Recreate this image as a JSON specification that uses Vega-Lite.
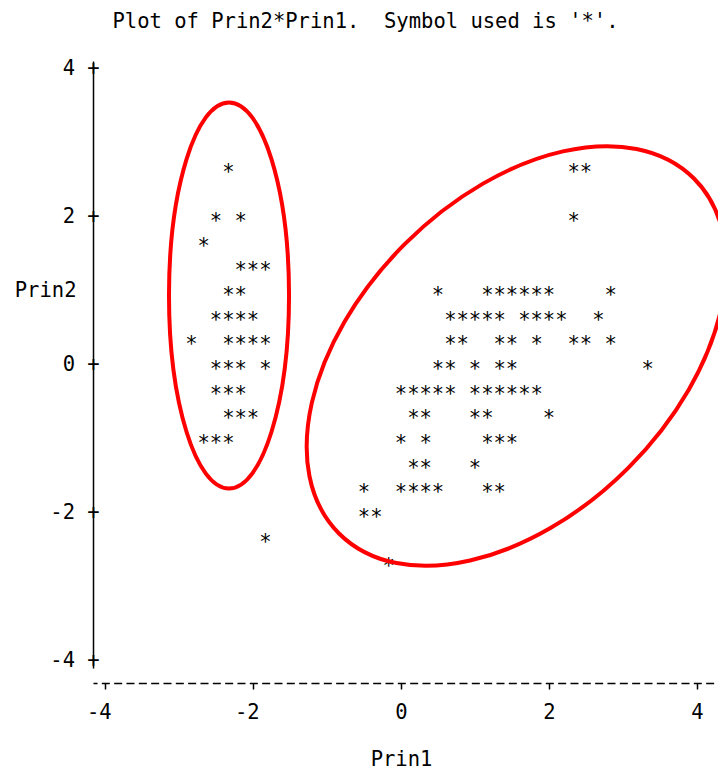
{
  "$schema": "https://vega.github.io/schema/vega-lite/v6.json",
  "width": 625,
  "height": 607,
  "autosize": {"type": "none"},
  "padding": {"left": 93, "top": 61, "right": 0, "bottom": 104},
  "background": "white",
  "title": {
    "text": "Plot of Prin2*Prin1.\u00a0 Symbol used is '*'.",
    "frame": "group",
    "anchor": "middle",
    "dx": -40,
    "offset": 10,
    "baseline": "alphabetic",
    "font": "DejaVu Sans Mono",
    "fontSize": 20.5,
    "fontWeight": "normal",
    "color": "black"
  },
  "config": {"view": {"stroke": null}, "font": "DejaVu Sans Mono"},
  "datasets": {
    "stars": [
      {"Prin1": -2.333, "Prin2": 2.667},
      {"Prin1": -2.5, "Prin2": 2.0},
      {"Prin1": -2.167, "Prin2": 2.0},
      {"Prin1": -2.667, "Prin2": 1.667},
      {"Prin1": -2.167, "Prin2": 1.333},
      {"Prin1": -2.0, "Prin2": 1.333},
      {"Prin1": -1.833, "Prin2": 1.333},
      {"Prin1": -2.333, "Prin2": 1.0},
      {"Prin1": -2.167, "Prin2": 1.0},
      {"Prin1": -2.5, "Prin2": 0.667},
      {"Prin1": -2.333, "Prin2": 0.667},
      {"Prin1": -2.167, "Prin2": 0.667},
      {"Prin1": -2.0, "Prin2": 0.667},
      {"Prin1": -2.833, "Prin2": 0.333},
      {"Prin1": -2.333, "Prin2": 0.333},
      {"Prin1": -2.167, "Prin2": 0.333},
      {"Prin1": -2.0, "Prin2": 0.333},
      {"Prin1": -1.833, "Prin2": 0.333},
      {"Prin1": -2.5, "Prin2": 0.0},
      {"Prin1": -2.333, "Prin2": 0.0},
      {"Prin1": -2.167, "Prin2": 0.0},
      {"Prin1": -1.833, "Prin2": 0.0},
      {"Prin1": -2.5, "Prin2": -0.333},
      {"Prin1": -2.333, "Prin2": -0.333},
      {"Prin1": -2.167, "Prin2": -0.333},
      {"Prin1": -2.333, "Prin2": -0.667},
      {"Prin1": -2.167, "Prin2": -0.667},
      {"Prin1": -2.0, "Prin2": -0.667},
      {"Prin1": -2.667, "Prin2": -1.0},
      {"Prin1": -2.5, "Prin2": -1.0},
      {"Prin1": -2.333, "Prin2": -1.0},
      {"Prin1": -1.833, "Prin2": -2.333},
      {"Prin1": 2.333, "Prin2": 2.667},
      {"Prin1": 2.5, "Prin2": 2.667},
      {"Prin1": 2.333, "Prin2": 2.0},
      {"Prin1": 0.5, "Prin2": 1.0},
      {"Prin1": 1.167, "Prin2": 1.0},
      {"Prin1": 1.333, "Prin2": 1.0},
      {"Prin1": 1.5, "Prin2": 1.0},
      {"Prin1": 1.667, "Prin2": 1.0},
      {"Prin1": 1.833, "Prin2": 1.0},
      {"Prin1": 2.0, "Prin2": 1.0},
      {"Prin1": 2.833, "Prin2": 1.0},
      {"Prin1": 0.667, "Prin2": 0.667},
      {"Prin1": 0.833, "Prin2": 0.667},
      {"Prin1": 1.0, "Prin2": 0.667},
      {"Prin1": 1.167, "Prin2": 0.667},
      {"Prin1": 1.333, "Prin2": 0.667},
      {"Prin1": 1.667, "Prin2": 0.667},
      {"Prin1": 1.833, "Prin2": 0.667},
      {"Prin1": 2.0, "Prin2": 0.667},
      {"Prin1": 2.167, "Prin2": 0.667},
      {"Prin1": 2.667, "Prin2": 0.667},
      {"Prin1": 0.667, "Prin2": 0.333},
      {"Prin1": 0.833, "Prin2": 0.333},
      {"Prin1": 1.333, "Prin2": 0.333},
      {"Prin1": 1.5, "Prin2": 0.333},
      {"Prin1": 1.833, "Prin2": 0.333},
      {"Prin1": 2.333, "Prin2": 0.333},
      {"Prin1": 2.5, "Prin2": 0.333},
      {"Prin1": 2.833, "Prin2": 0.333},
      {"Prin1": 0.5, "Prin2": 0.0},
      {"Prin1": 0.667, "Prin2": 0.0},
      {"Prin1": 1.0, "Prin2": 0.0},
      {"Prin1": 1.333, "Prin2": 0.0},
      {"Prin1": 1.5, "Prin2": 0.0},
      {"Prin1": 3.333, "Prin2": 0.0},
      {"Prin1": 0.0, "Prin2": -0.333},
      {"Prin1": 0.167, "Prin2": -0.333},
      {"Prin1": 0.333, "Prin2": -0.333},
      {"Prin1": 0.5, "Prin2": -0.333},
      {"Prin1": 0.667, "Prin2": -0.333},
      {"Prin1": 1.0, "Prin2": -0.333},
      {"Prin1": 1.167, "Prin2": -0.333},
      {"Prin1": 1.333, "Prin2": -0.333},
      {"Prin1": 1.5, "Prin2": -0.333},
      {"Prin1": 1.667, "Prin2": -0.333},
      {"Prin1": 1.833, "Prin2": -0.333},
      {"Prin1": 0.167, "Prin2": -0.667},
      {"Prin1": 0.333, "Prin2": -0.667},
      {"Prin1": 1.0, "Prin2": -0.667},
      {"Prin1": 1.167, "Prin2": -0.667},
      {"Prin1": 2.0, "Prin2": -0.667},
      {"Prin1": 0.0, "Prin2": -1.0},
      {"Prin1": 0.333, "Prin2": -1.0},
      {"Prin1": 1.167, "Prin2": -1.0},
      {"Prin1": 1.333, "Prin2": -1.0},
      {"Prin1": 1.5, "Prin2": -1.0},
      {"Prin1": 0.167, "Prin2": -1.333},
      {"Prin1": 0.333, "Prin2": -1.333},
      {"Prin1": 1.0, "Prin2": -1.333},
      {"Prin1": -0.5, "Prin2": -1.667},
      {"Prin1": 0.0, "Prin2": -1.667},
      {"Prin1": 0.167, "Prin2": -1.667},
      {"Prin1": 0.333, "Prin2": -1.667},
      {"Prin1": 0.5, "Prin2": -1.667},
      {"Prin1": 1.167, "Prin2": -1.667},
      {"Prin1": 1.333, "Prin2": -1.667},
      {"Prin1": -0.5, "Prin2": -2.0},
      {"Prin1": -0.333, "Prin2": -2.0},
      {"Prin1": -0.167, "Prin2": -2.667}
    ],
    "clusters": [
      {"cluster": "left", "Prin1": -2.324, "Prin2": 0.932},
      {"cluster": "right", "Prin1": 1.561, "Prin2": 0.115}
    ]
  },
  "layer": [
    {
      "data": {"name": "stars"},
      "mark": {"type": "text", "text": "*", "font": "DejaVu Sans Mono", "fontSize": 20.5, "baseline": "alphabetic", "dy": 11.5, "color": "black"},
      "encoding": {
        "x": {
          "field": "Prin1", "type": "quantitative",
          "scale": {"domain": [-4.162, 4.284], "nice": false, "zero": false},
          "axis": {
            "values": [-4, -2, 0, 2, 4],
            "title": "Prin1",
            "offset": 15,
            "grid": false,
            "domainColor": "black",
            "domainWidth": 1.5,
            "domainDash": [8, 4.333],
            "domainDashOffset": 4,
            "ticks": true,
            "tickSize": 6,
            "tickWidth": 1.5,
            "tickColor": "black",
            "labelExpr": "datum.value < 0 ? '-' + abs(datum.value) : '' + datum.value",
            "labelAlign": "right",
            "labelOffset": 6.2,
            "labelPadding": 13,
            "labelFlush": false,
            "labelFont": "DejaVu Sans Mono",
            "labelFontSize": 20.5,
            "labelColor": "black",
            "titleFont": "DejaVu Sans Mono",
            "titleFontSize": 20.5,
            "titleFontWeight": "normal",
            "titleColor": "black",
            "titleX": 308,
            "titleAlign": "center",
            "titlePadding": 27
          }
        },
        "y": {
          "field": "Prin2", "type": "quantitative",
          "scale": {"domain": [-4.1, 4.1], "nice": false, "zero": false},
          "axis": {
            "values": [-4, -2, 0, 2, 4],
            "title": "Prin2",
            "grid": false,
            "domainColor": "black",
            "domainWidth": 1.5,
            "ticks": false,
            "tickSize": 0,
            "labelExpr": "(datum.value < 0 ? '-' + abs(datum.value) : '' + datum.value) + ' +'",
            "labelAlign": "right",
            "labelBaseline": "middle",
            "labelPadding": -6.2,
            "labelFlush": false,
            "labelFont": "DejaVu Sans Mono",
            "labelFontSize": 20.5,
            "labelColor": "black",
            "titleFont": "DejaVu Sans Mono",
            "titleFontSize": 20.5,
            "titleFontWeight": "normal",
            "titleColor": "black",
            "titleAngle": 0,
            "titleAlign": "right",
            "titleBaseline": "middle",
            "titleX": -17,
            "titleY": 229
          }
        }
      }
    },
    {
      "data": {"name": "clusters"},
      "transform": [{"filter": "datum.cluster == 'left'"}],
      "mark": {
        "type": "point",
        "shape": "M 0 -1 C 0.1718 -1 0.311 -0.5523 0.311 0 C 0.311 0.5523 0.1718 1 0 1 C -0.1718 1 -0.311 0.5523 -0.311 0 C -0.311 -0.5523 -0.1718 -1 0 -1 Z",
        "size": 148996,
        "filled": false,
        "stroke": "#ff0000",
        "strokeWidth": 4,
        "opacity": 1
      },
      "encoding": {
        "x": {"field": "Prin1", "type": "quantitative"},
        "y": {"field": "Prin2", "type": "quantitative"}
      }
    },
    {
      "data": {"name": "clusters"},
      "transform": [{"filter": "datum.cluster == 'right'"}],
      "mark": {
        "type": "point",
        "shape": "M -1 0 C -1 -0.348 -0.5523 -0.63 0 -0.63 C 0.5523 -0.63 1 -0.348 1 0 C 1 0.348 0.5523 0.63 0 0.63 C -0.5523 0.63 -1 0.348 -1 0 Z",
        "size": 252004,
        "angle": 315,
        "filled": false,
        "stroke": "#ff0000",
        "strokeWidth": 4,
        "opacity": 1
      },
      "encoding": {
        "x": {"field": "Prin1", "type": "quantitative"},
        "y": {"field": "Prin2", "type": "quantitative"}
      }
    }
  ]
}
